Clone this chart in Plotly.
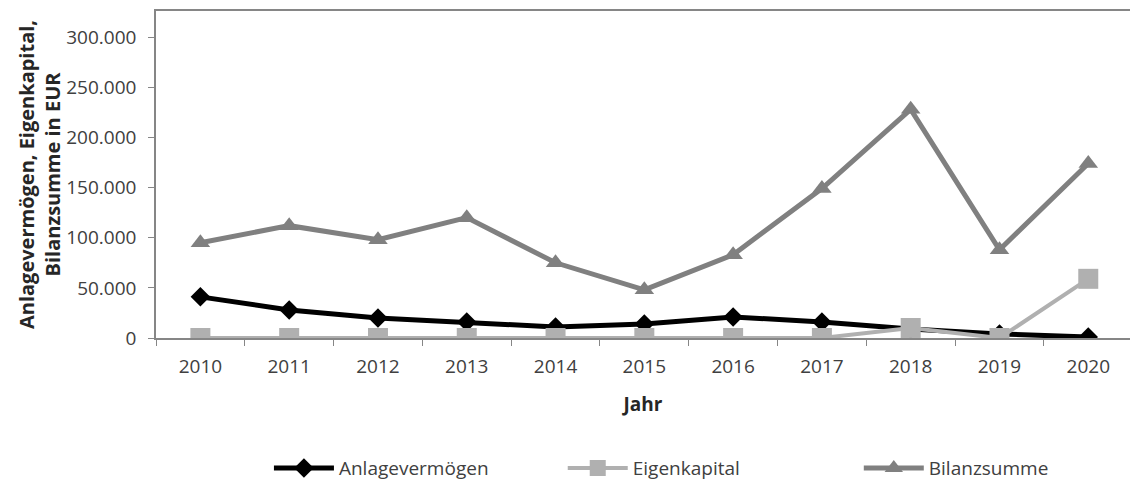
import plotly.graph_objects as go

years = ["2010", "2011", "2012", "2013", "2014", "2015", "2016", "2017", "2018", "2019", "2020"]
anlagevermoegen = [41000, 28000, 20000, 16000, 11000, 14000, 21000, 16000, 9000, 4000, 1000]
eigenkapital = [0, 0, 0, 0, 0, 0, 0, 0, 10000, 0, 59000]
bilanzsumme = [95000, 112000, 98000, 120000, 75000, 48000, 83000, 149000, 228000, 88000, 174000]
y_ticks = [0, 50000, 100000, 150000, 200000, 250000, 300000]

FONT = "Open Sans"
TXT = "#404040"
AX = "#868686"

fig = go.Figure()
fig.add_trace(go.Scatter(x=years, y=anlagevermoegen, name="Anlagevermögen", mode="lines+markers",
                         line=dict(color="#000000", width=5), legend="legend",
                         marker=dict(symbol="diamond", size=15, color="#000000")))
fig.add_trace(go.Scatter(x=years, y=eigenkapital, name="Eigenkapital", mode="lines+markers",
                         line=dict(color="#b0b0b0", width=4), legend="legend2",
                         marker=dict(symbol="square", size=20, color="#b0b0b0")))
fig.add_trace(go.Scatter(x=years, y=bilanzsumme, name="Bilanzsumme", mode="lines+markers",
                         line=dict(color="#808080", width=5), legend="legend3",
                         marker=dict(symbol="triangle-up", size=17, color="#808080")))

leg_common = dict(orientation="h", xref="container", yref="container", xanchor="left",
                  y=0.033, yanchor="middle", itemwidth=60,
                  font=dict(family=FONT, size=19, color=TXT), bgcolor="rgba(0,0,0,0)")

fig.update_layout(
    width=1130, height=484,
    margin=dict(l=156, r=0, t=11, b=146, autoexpand=False),
    paper_bgcolor="white", plot_bgcolor="white",
    separators=",.",
    font=dict(family=FONT, size=19, color=TXT),
    showlegend=True,
    legend=dict(x=0.238, **leg_common),
    legend2=dict(x=0.498, **leg_common),
    legend3=dict(x=0.760, **leg_common),
    xaxis=dict(type="category", range=[-0.5, 10.47], showline=True, linecolor=AX, linewidth=1.5,
               mirror=True, ticks="outside", ticklen=6, tickcolor=AX, tickson="boundaries",
               showgrid=False, zeroline=False, tickfont=dict(size=19, color=TXT),
               ticklabelstandoff=10, automargin=False,
               title=dict(text="<b>Jahr</b>", font=dict(size=19, color="#262626"), standoff=20)),
    yaxis=dict(range=[0, 326000], tickvals=y_ticks, tickformat=",d", showline=True, linecolor=AX,
               linewidth=1.5, ticks="outside", ticklen=6, tickcolor=AX, showgrid=False, zeroline=False,
               tickfont=dict(size=19, color=TXT), ticklabelstandoff=8, automargin=False,
               title=dict(text="<b>Anlagevermögen, Eigenkapital,<br>Bilanzsumme in EUR</b>",
                          font=dict(size=20, color="#262626"), standoff=0)),
)

fig.write_html("out.html", config={"displayModeBar": False},
               post_script="document.body.style.margin='0px';document.body.style.padding='0px';")
